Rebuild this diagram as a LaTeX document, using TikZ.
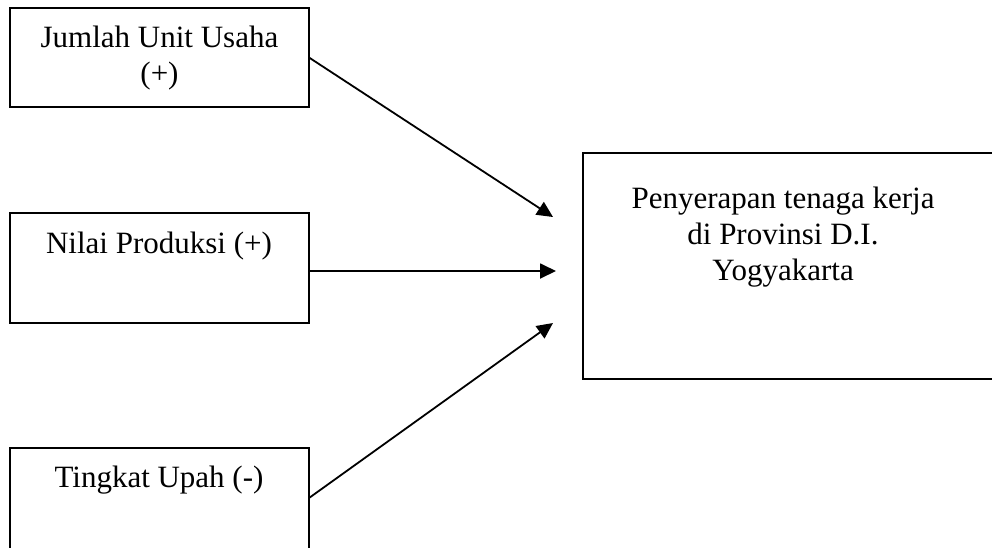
\documentclass[tikz,border=0pt]{standalone}
\usepackage{fontspec}
\setmainfont{Liberation Serif}
\usetikzlibrary{arrows.meta}
\begin{document}
\begin{tikzpicture}[x=1pt,y=-1pt,
  box/.style={draw, line width=2pt, inner sep=0pt, outer sep=0pt},
  lbl/.style={font=\fontsize{31}{36}\selectfont, align=center, inner sep=0pt},
  arr/.style={line width=1.8pt, -{Triangle[length=16pt,width=15pt]}}]
\useasboundingbox (0,0) rectangle (992,547);
\begin{scope}
\clip (0,0) rectangle (992,547);
\node[box, minimum width=299pt, minimum height=99pt] (b1) at (159.5,57.5) {};
\node[box, minimum width=299pt, minimum height=110pt] (b2) at (159.5,268) {};
\node[box, minimum width=299pt, minimum height=110pt] (b3) at (159.5,503) {};
\node[box, minimum width=417pt, minimum height=226pt] (r) at (791.5,266) {};
\end{scope}
\node[lbl, anchor=base] (t1) at (159.5,83) {Jumlah Unit Usaha\\(+)};
\node[lbl, anchor=base] (t2) at (159,253) {Nilai Produksi (+)};
\node[lbl, anchor=base] (t3) at (159,487) {Tingkat Upah (-)};
\node[lbl, anchor=base] (tr) at (783,280) {Penyerapan tenaga kerja\\di Provinsi D.I.\\Yogyakarta};
\coordinate (e1) at (553,217);
\coordinate (e2) at (556,271);
\coordinate (e3) at (553,323);
\draw[arr] (b1.east) -- (e1);
\draw[arr] (b2.east |- e2) -- (e2);
\draw[arr] ([yshift=5pt]b3.east) -- (e3);
\end{tikzpicture}
\end{document}
